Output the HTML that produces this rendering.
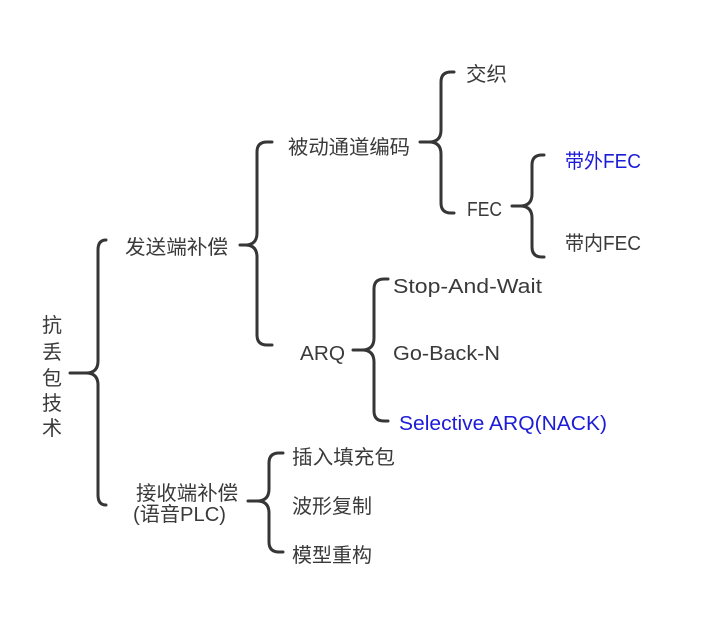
<!DOCTYPE html>
<html>
<head>
<meta charset="utf-8">
<style>
  html, body { margin: 0; padding: 0; background: #ffffff; }
  svg { display: block; }
  text { font-family: "Liberation Sans", "Noto Sans CJK SC", sans-serif; font-size: 20px; fill: #3a3a3a; }
  .blue { fill: #1c1cd8; }
  path { fill: none; stroke: #363636; stroke-width: 3; stroke-linecap: round; stroke-linejoin: round; }
</style>
</head>
<body>
<svg width="704" height="624" viewBox="0 0 704 624" xmlns="http://www.w3.org/2000/svg">
  <!-- braces -->
  <path d="M106 240 Q98 240 98 250 L98 361 Q98 373 86 373 L70 373 M86 373 Q98 373 98 385 L98 495 Q98 505 106 505"/>
  <path d="M272 142 L267 142 Q257 142 257 152 L257 233 Q257 245 245 245 L240 245 M245 245 Q257 245 257 257 L257 335 Q257 345 267 345 L272 345"/>
  <path d="M454 72 L451 72 Q441 72 441 82 L441 130 Q441 142 429 142 L420 142 M429 142 Q441 142 441 154 L441 203 Q441 213 451 213 L454 213"/>
  <path d="M544 155 L542 155 Q532 155 532 165 L532 194 Q532 206 520 206 L512 206 M520 206 Q532 206 532 218 L532 247 Q532 257 542 257 L544 257"/>
  <path d="M388 279 L384 279 Q374 279 374 289 L374 338 Q374 350 362 350 L353 350 M362 350 Q374 350 374 362 L374 411 Q374 421 384 421 L388 421"/>
  <path d="M283 453 L279 453 Q269 453 269 463 L269 489 Q269 501 257 501 L248 501 M257 501 Q269 501 269 513 L269 542 Q269 552 279 552 L283 552"/>

  <!-- root vertical text -->
  <text x="42" y="332">抗</text>
  <text x="42" y="359">丢</text>
  <text x="42" y="385">包</text>
  <text x="42" y="410">技</text>
  <text x="42" y="435">术</text>

  <!-- level 1 -->
  <text x="125" y="254" textLength="103" lengthAdjust="spacingAndGlyphs">发送端补偿</text>
  <text x="136" y="500" textLength="102" lengthAdjust="spacingAndGlyphs">接收端补偿</text>
  <text x="133" y="521" textLength="93" lengthAdjust="spacingAndGlyphs">(语音PLC)</text>

  <!-- level 2 -->
  <text x="288" y="154" textLength="122" lengthAdjust="spacingAndGlyphs">被动通道编码</text>
  <text x="300" y="360" textLength="45" lengthAdjust="spacingAndGlyphs">ARQ</text>
  <text x="292" y="464" textLength="103" lengthAdjust="spacingAndGlyphs">插入填充包</text>
  <text x="292" y="513" textLength="80" lengthAdjust="spacingAndGlyphs">波形复制</text>
  <text x="292" y="562" textLength="80" lengthAdjust="spacingAndGlyphs">模型重构</text>

  <!-- level 3 -->
  <text x="466" y="81" textLength="41" lengthAdjust="spacingAndGlyphs">交织</text>
  <text x="467" y="216" textLength="35" lengthAdjust="spacingAndGlyphs">FEC</text>
  <text x="393" y="293" textLength="149" lengthAdjust="spacingAndGlyphs">Stop-And-Wait</text>
  <text x="393" y="360" textLength="107" lengthAdjust="spacingAndGlyphs">Go-Back-N</text>
  <text class="blue" x="399" y="430" textLength="208" lengthAdjust="spacingAndGlyphs">Selective ARQ(NACK)</text>

  <!-- level 4 -->
  <text class="blue" x="565" y="168" textLength="76" lengthAdjust="spacingAndGlyphs">带外FEC</text>
  <text x="565" y="250" textLength="76" lengthAdjust="spacingAndGlyphs">带内FEC</text>
</svg>
</body>
</html>
